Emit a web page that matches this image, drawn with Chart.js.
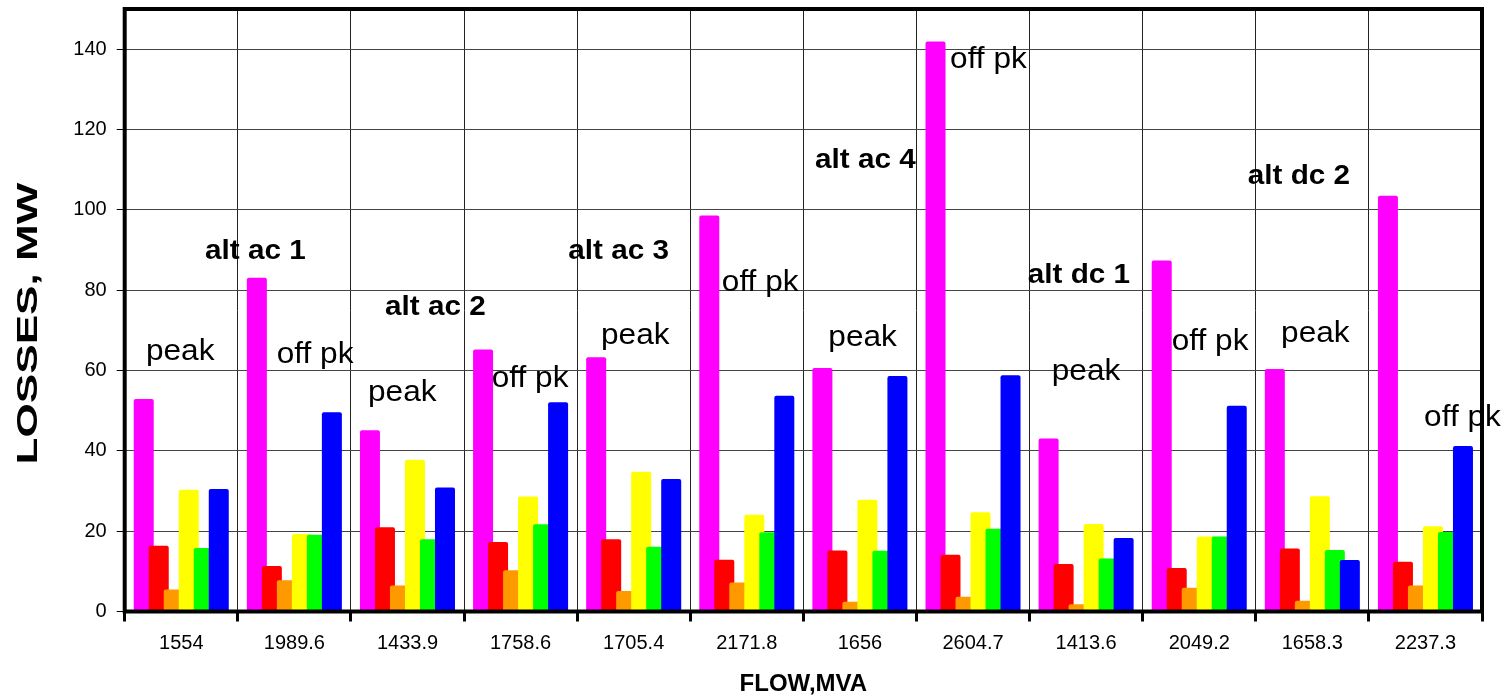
<!DOCTYPE html>
<html>
<head>
<meta charset="utf-8">
<script src="https://cdn.jsdelivr.net/npm/chart.js@4"></script>
<style>
  html, body { margin: 0; padding: 0; background: #ffffff; }
  #wrap { width: 1512px; height: 700px; }
</style>
</head>
<body>
<div id="wrap"><canvas id="c" width="1512" height="700"></canvas></div>
<script>
// ---- data ----
const categories = ['1554', '1989.6', '1433.9', '1758.6', '1705.4', '2171.8', '1656', '2604.7', '1413.6', '2049.2', '1658.3', '2237.3'];
const magentaValues = [52.9, 83.1, 45.1, 65.2, 63.3, 98.6, 60.6, 141.9, 43.1, 87.4, 60.4, 103.5];
const redValues     = [16.4, 11.3, 21.0, 17.3, 18.0, 12.9, 15.2, 14.1, 11.8, 10.8, 15.7, 12.4];
const orangeValues  = [5.5, 7.8, 6.5, 10.3, 5.1, 7.2, 2.4, 3.7, 1.8, 5.9, 2.7, 6.5];
const yellowValues  = [30.3, 19.3, 37.8, 28.6, 34.8, 24.1, 27.8, 24.7, 21.8, 18.7, 28.7, 21.2];
const greenValues   = [15.8, 19.1, 18.0, 21.7, 16.1, 19.7, 15.1, 20.6, 13.2, 18.7, 15.3, 19.8];
const blueValues    = [30.5, 49.6, 30.9, 52.1, 33.0, 53.7, 58.6, 58.8, 18.3, 51.2, 12.8, 41.2];

const yTickValues = [0, 20, 40, 60, 80, 100, 120, 140];

// annotation texts and their anchors (category index, value)
const noteTexts = ['peak', 'alt ac 1', 'off pk', 'alt ac 2', 'peak', 'off pk', 'alt ac 3', 'peak', 'off pk',
                   'alt ac 4', 'peak', 'off pk', 'alt dc 1', 'peak', 'off pk', 'alt dc 2', 'peak', 'off pk'];
const noteBold  = [false, true, false, true, false, false, true, false, false,
                   true, false, false, true, false, false, true, false, false];
const noteIndex = [-0.312, 0.210, 0.844, 1.802, 1.651, 2.745, 3.422, 3.711, 4.779,
                   5.603, 5.721, 6.797, 7.484, 7.696, 8.757, 9.429, 9.724, 10.988];
const noteValue = [62.7, 87.8, 61.9, 73.7, 52.3, 56.0, 87.7, 66.5, 79.8,
                   110.3, 66.1, 135.2, 81.8, 57.7, 65.2, 106.4, 67.0, 46.1];

const FONT = 'Arial, "Liberation Sans", sans-serif';

// draw datasets so that later series sit on top of earlier ones
const drawOrderPlugin = {
  id: 'drawOrder',
  beforeDatasetsDraw(chart) {
    const metas = chart.getSortedVisibleDatasetMetas();
    const ctx = chart.ctx;
    for (const meta of metas) {
      ctx.save();
      meta.controller.draw();
      ctx.restore();
    }
    return false;
  }
};

const notesPlugin = {
  id: 'notes',
  afterDraw(chart) {
    const ctx = chart.ctx;
    const xs = chart.scales.x, ys = chart.scales.y;
    const a = chart.chartArea;
    ctx.save();
    ctx.fillStyle = '#000';
    ctx.textAlign = 'left';
    ctx.textBaseline = 'alphabetic';
    for (let i = 0; i < noteTexts.length; i++) {
      const px = xs.getPixelForValue(noteIndex[i]);
      const py = ys.getPixelForValue(noteValue[i]);
      ctx.save();
      ctx.translate(px, py);
      if (noteBold[i]) {
        ctx.font = 'bold 27px ' + FONT;
        ctx.scale(1.1, 1);
      } else {
        ctx.font = '29px ' + FONT;
        ctx.scale(1.09, 1);
      }
      ctx.fillText(noteTexts[i], 0, 0);
      ctx.restore();
    }
    ctx.restore();

    ctx.save();
    // frame
    ctx.strokeStyle = '#000';
    ctx.lineWidth = 4;
    ctx.strokeRect(a.left, a.top, a.right - a.left, a.bottom - a.top);
    // y axis title (stretched along reading direction)
    ctx.fillStyle = '#000';
    ctx.font = 'bold 30px ' + FONT;
    ctx.textAlign = 'center';
    ctx.textBaseline = 'alphabetic';
    ctx.translate(37, 323.5);
    ctx.rotate(-Math.PI / 2);
    ctx.scale(1.47, 1);
    ctx.fillText('LOSSES, MW', 0, 0);
    ctx.restore();
  }
};

const seriesColors = ['#FF00FF', '#FF0000', '#FF9900', '#FFFF00', '#00FF00', '#0000FF'];
const seriesValues = [magentaValues, redValues, orangeValues, yellowValues, greenValues, blueValues];
const seriesNames = ['magenta', 'red', 'orange', 'yellow', 'green', 'blue'];

const datasets = seriesValues.map((vals, i) => ({
  label: seriesNames[i],
  data: vals,
  backgroundColor: seriesColors[i],
  borderWidth: 0,
  borderRadius: 2,
  categoryPercentage: 0.796,
  barPercentage: 1.333
}));

new Chart(document.getElementById('c'), {
  type: 'bar',
  data: { labels: categories, datasets },
  plugins: [drawOrderPlugin, notesPlugin],
  options: {
    responsive: false,
    animation: false,
    layout: { padding: { left: 0, right: 30, top: 9, bottom: 0 } },
    plugins: { legend: { display: false }, tooltip: { enabled: false } },
    scales: {
      x: {
        grid: {
          offset: true,
          color: '#222',
          lineWidth: 1,
          drawTicks: true,
          tickLength: 10,
          tickWidth: 3,
          tickColor: '#000'
        },
        border: { display: false },
        ticks: {
          color: '#000',
          font: { family: FONT, size: 20 },
          padding: 10,
          maxRotation: 0,
          autoSkip: false
        },
        title: {
          display: true,
          text: 'FLOW,MVA',
          color: '#000',
          font: { family: FONT, size: 24, weight: 'bold' },
          padding: { top: 0, bottom: 1 }
        },
        afterFit(scale) {
          scale.height = 88.5;
          scale.paddingLeft = 0;
          scale.paddingRight = 0;
        }
      },
      y: {
        min: 0,
        max: 150,
        grid: {
          color: '#444',
          lineWidth: 1,
          tickLength: 8,
          tickWidth: 1,
          tickColor: '#000'
        },
        border: { display: false },
        ticks: {
          stepSize: 20,
          color: '#000',
          font: { family: FONT, size: 20 },
          padding: 10
        },
        afterBuildTicks(scale) {
          scale.ticks = yTickValues.map(v => ({ value: v }));
        },
        afterFit(scale) {
          scale.width = 124.7;
          scale.paddingTop = 0;
          scale.paddingBottom = 0;
        }
      }
    }
  }
});
</script>
</body>
</html>
